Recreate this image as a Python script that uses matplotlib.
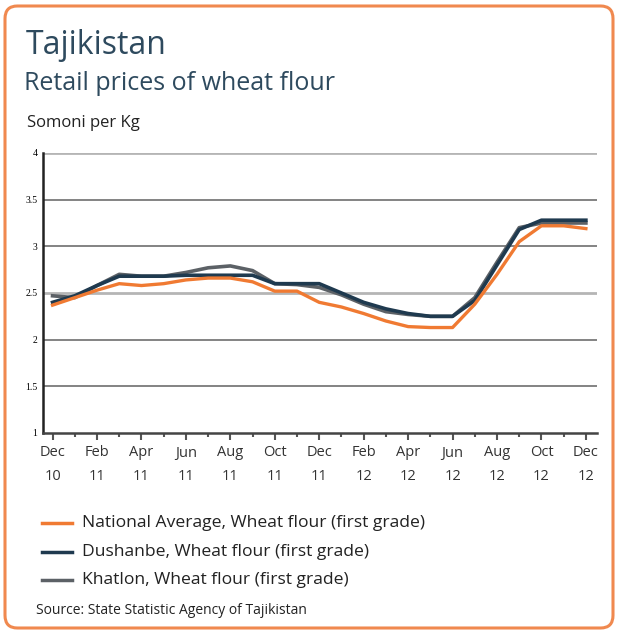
import numpy as np
import matplotlib.pyplot as plt
from matplotlib.patches import FancyBboxPatch
from matplotlib.lines import Line2D

plt.rcParams['font.family'] = ['Open Sans', 'DejaVu Sans']

# Monthly, Dec 2010 .. Dec 2012 (25 points)
months = ['Dec\n10', '', 'Feb\n11', '', 'Apr\n11', '', 'Jun\n11', '', 'Aug\n11', '', 'Oct\n11', '',
          'Dec\n11', '', 'Feb\n12', '', 'Apr\n12', '', 'Jun\n12', '', 'Aug\n12', '', 'Oct\n12', '', 'Dec\n12']
national = [2.37, 2.45, 2.53, 2.60, 2.58, 2.60, 2.64, 2.66, 2.66, 2.62, 2.52, 2.52, 2.40,
            2.35, 2.28, 2.20, 2.14, 2.13, 2.13, 2.38, 2.70, 3.05, 3.22, 3.22, 3.19]
dushanbe = [2.40, 2.47, 2.58, 2.68, 2.68, 2.68, 2.69, 2.69, 2.69, 2.69, 2.60, 2.60, 2.60,
            2.50, 2.40, 2.33, 2.28, 2.25, 2.25, 2.42, 2.80, 3.18, 3.28, 3.28, 3.28]
khatlon = [2.47, 2.45, 2.58, 2.70, 2.68, 2.68, 2.72, 2.77, 2.79, 2.74, 2.60, 2.59, 2.56,
           2.48, 2.38, 2.30, 2.27, 2.25, 2.25, 2.45, 2.83, 3.20, 3.25, 3.25, 3.25]
labels = ['National Average, Wheat flour (first grade)',
          'Dushanbe, Wheat flour (first grade)',
          'Khatlon, Wheat flour (first grade)']
colors = ['#f07a32', '#1f3a4f', '#5c6166']
yticks = [1, 1.5, 2, 2.5, 3, 3.5, 4]

W, H = 617, 633
fig = plt.figure(figsize=(W / 100, H / 100), dpi=100)

def px(x, y):
    return x / W, 1 - y / H

# rounded orange frame
frame = FancyBboxPatch(px(5, 628), 608 / W, 622 / H,
                       boxstyle='round,pad=0,rounding_size=0.02',
                       transform=fig.transFigure, facecolor='white',
                       edgecolor='#f0894f', linewidth=2.2, zorder=-10)
fig.patches.append(frame)

fig.text(*px(26, 45), 'Tajikistan', fontsize=23, color='#2e4a5e', va='center')
fig.text(*px(24, 83), 'Retail prices of wheat flour', fontsize=18, color='#2e4a5e', va='center')
fig.text(*px(27, 123), 'Somoni per Kg', fontsize=12, color='#222222', va='center')

x = np.arange(len(months))
ax = fig.add_axes([43 / W, 1 - 433 / H, (597 - 43) / W, (433 - 153) / H])
ax.patch.set_alpha(0)
for y in yticks[1:]:
    c = '#b5b5b5' if y in (2.5, 4) else '#6e6e6e'
    lw = 2.0 if y in (2.5, 4) else 1.2
    ax.axhline(y, color=c, lw=lw, zorder=1)

ax.plot(x, khatlon, color=colors[2], lw=2.6, zorder=3)
ax.plot(x, dushanbe, color=colors[1], lw=2.6, zorder=4)
ax.plot(x, national, color=colors[0], lw=2.4, zorder=5)

ax.set_xlim(-0.43, 24.5)
ax.set_ylim(1, 4)
ax.set_yticks(yticks)
ax.set_yticklabels(['1', '1.5', '2', '2.5', '3', '3.5', '4'], fontsize=7,
                   family=['Liberation Serif'])
ax.tick_params(axis='y', length=0, pad=4)
ax.set_xticks(x)
ax.set_xticklabels(months, fontsize=10.5, color='#333333', linespacing=1.75)
ax.tick_params(axis='x', length=5, width=1.5, color='#555555', pad=4)
for i, t in enumerate(ax.xaxis.get_major_ticks()):
    if i % 2 == 1:
        t.tick1line.set_markersize(3)
for s in ['top', 'right']:
    ax.spines[s].set_visible(False)
ax.spines['left'].set_linewidth(1.8)
ax.spines['bottom'].set_linewidth(1.8)
ax.spines['left'].set_color('#222222')
ax.spines['bottom'].set_color('#444444')

# legend
for k, (lab, c) in enumerate(zip(labels, colors)):
    yy = 523 + k * 28.5
    fig.add_artist(Line2D([px(42, 0)[0], px(72, 0)[0]], [px(0, yy)[1]] * 2,
                          color=c, lw=2.5, transform=fig.transFigure))
    fig.text(*px(82, yy), lab, fontsize=12.6, color='#222222', va='center')

fig.text(*px(36, 610), 'Source: State Statistic Agency of Tajikistan', fontsize=10,
         color='#222222', va='center')

fig.savefig('out.png', dpi=100, facecolor='white')
